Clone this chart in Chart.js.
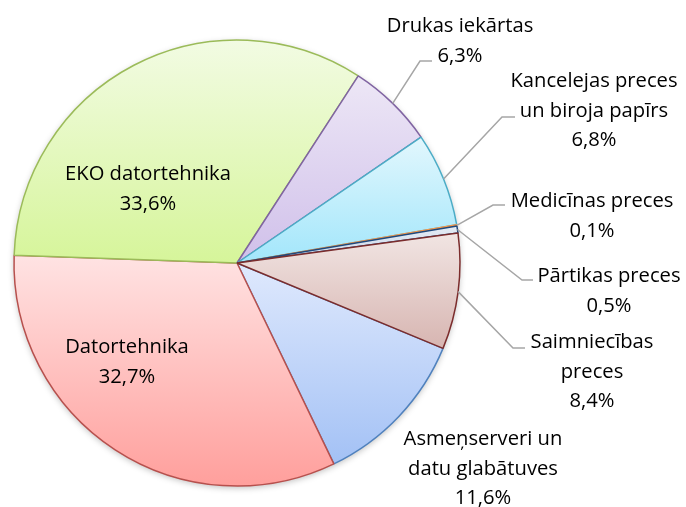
<!DOCTYPE html>
<html>
<head>
<meta charset="utf-8">
<script src="https://cdn.jsdelivr.net/npm/chart.js@4"></script>
<style>
  html, body { margin: 0; padding: 0; background: #fff; }
  #wrap { width: 686px; height: 507px; }
</style>
</head>
<body>
<div id="wrap"><canvas id="pie" width="686" height="507"></canvas></div>
<script>
// data, in drawing order (clockwise, first slice starts at ~112.5 deg)
const categories = [
  'Asmeņserveri un\ndatu glabātuves',
  'Datortehnika',
  'EKO datortehnika',
  'Drukas iekārtas',
  'Kancelejas preces\nun biroja papīrs',
  'Medicīnas preces',
  'Pārtikas preces',
  'Saimniecības\npreces'
];
const shares = [11.6, 32.7, 33.6, 6.3, 6.8, 0.1, 0.5, 8.4];

// slice colours: gradient top, gradient bottom, border
const topColors = ['#dfe9fd', '#ffe3e3', '#f2fbe3', '#ede7f6', '#e2f7fd', '#fbb47a', '#e4ebf4', '#f1e5e3'];
const bottomColors = ['#a3c1f5', '#ff9f9c', '#d6f59a', '#d0c0ea', '#a2e6fb', '#f79646', '#c9d7ea', '#d7b5b1'];
const borderColors = ['#4f81bd', '#b7504d', '#9bbb59', '#8064a2', '#4bacc6', '#f79646', '#1f497d', '#7b2c2c'];

// label placement: first baseline (x centre, y), optional leader elbow [x, y, endX]
const labelPos = [
  { x: 483, y: 445 },
  { x: 127, y: 353 },
  { x: 148, y: 180 },
  { x: 460, y: 32, elbow: [420, 61, 432] },
  { x: 594, y: 87, elbow: [502, 117, 515] },
  { x: 592, y: 207, elbow: [493, 205, 505] },
  { x: 609, y: 282, elbow: [522, 280, 533] },
  { x: 592, y: 348, elbow: [513, 348, 525] }
];

const FONT = '20.2px "Open Sans"';
const LINE_H = 29.5;

function pct(v) {
  return v.toFixed(1).replace('.', ',') + '%';
}

// vertical gradient per slice, over the slice's own bounding box
const gradientPlugin = {
  id: 'sliceGradient',
  beforeDatasetsDraw(chart) {
    const ctx = chart.ctx;
    const meta = chart.getDatasetMeta(0);
    meta.data.forEach((arc, i) => {
      const p = arc.getProps(['x', 'y', 'startAngle', 'endAngle', 'outerRadius'], true);
      let minY = p.y, maxY = p.y;
      const steps = 40;
      for (let s = 0; s <= steps; s++) {
        const a = p.startAngle + (p.endAngle - p.startAngle) * s / steps;
        const y = p.y + Math.sin(a) * p.outerRadius;
        minY = Math.min(minY, y);
        maxY = Math.max(maxY, y);
      }
      const g = ctx.createLinearGradient(0, minY, 0, maxY);
      g.addColorStop(0, topColors[i]);
      g.addColorStop(1, bottomColors[i]);
      arc.options.backgroundColor = g;
    });
    // soft shadow under the pie
    const a0 = meta.data[0];
    ctx.save();
    ctx.beginPath();
    ctx.arc(a0.x, a0.y, a0.outerRadius, 0, Math.PI * 2);
    ctx.shadowColor = 'rgba(0,0,0,0.25)';
    ctx.shadowBlur = 6;
    ctx.shadowOffsetY = 2;
    ctx.fillStyle = '#fff';
    ctx.fill();
    ctx.restore();
  }
};

const labelPlugin = {
  id: 'sliceLabels',
  afterDatasetsDraw(chart) {
    const ctx = chart.ctx;
    const meta = chart.getDatasetMeta(0);
    ctx.save();
    meta.data.forEach((arc, i) => {
      const pos = labelPos[i];
      if (pos.elbow) {
        const mid = (arc.startAngle + arc.endAngle) / 2;
        const sx = arc.x + Math.cos(mid) * arc.outerRadius;
        const sy = arc.y + Math.sin(mid) * arc.outerRadius;
        ctx.beginPath();
        ctx.moveTo(sx, sy);
        ctx.lineTo(pos.elbow[0], pos.elbow[1]);
        ctx.lineTo(pos.elbow[2], pos.elbow[1]);
        ctx.strokeStyle = '#a6a6a6';
        ctx.lineWidth = 1.5;
        ctx.stroke();
      }
      const lines = categories[i].split('\n').concat([pct(shares[i])]);
      ctx.font = FONT;
      ctx.fillStyle = '#000';
      ctx.textAlign = 'center';
      ctx.textBaseline = 'alphabetic';
      lines.forEach((t, k) => ctx.fillText(t, pos.x, pos.y + k * LINE_H));
    });
    ctx.restore();
  }
};

new Chart(document.getElementById('pie').getContext('2d'), {
  type: 'pie',
  data: {
    labels: categories,
    datasets: [{
      data: shares,
      backgroundColor: topColors,
      borderColor: borderColors,
      borderWidth: 1.5,
      borderAlign: 'center'
    }]
  },
  options: {
    responsive: false,
    animation: false,
    rotation: 112.5,
    radius: 223,
    layout: { padding: { left: 13, right: 225, top: 30, bottom: 11 } },
    plugins: {
      legend: { display: false },
      tooltip: { enabled: false }
    }
  },
  plugins: [gradientPlugin, labelPlugin]
});
</script>
</body>
</html>
